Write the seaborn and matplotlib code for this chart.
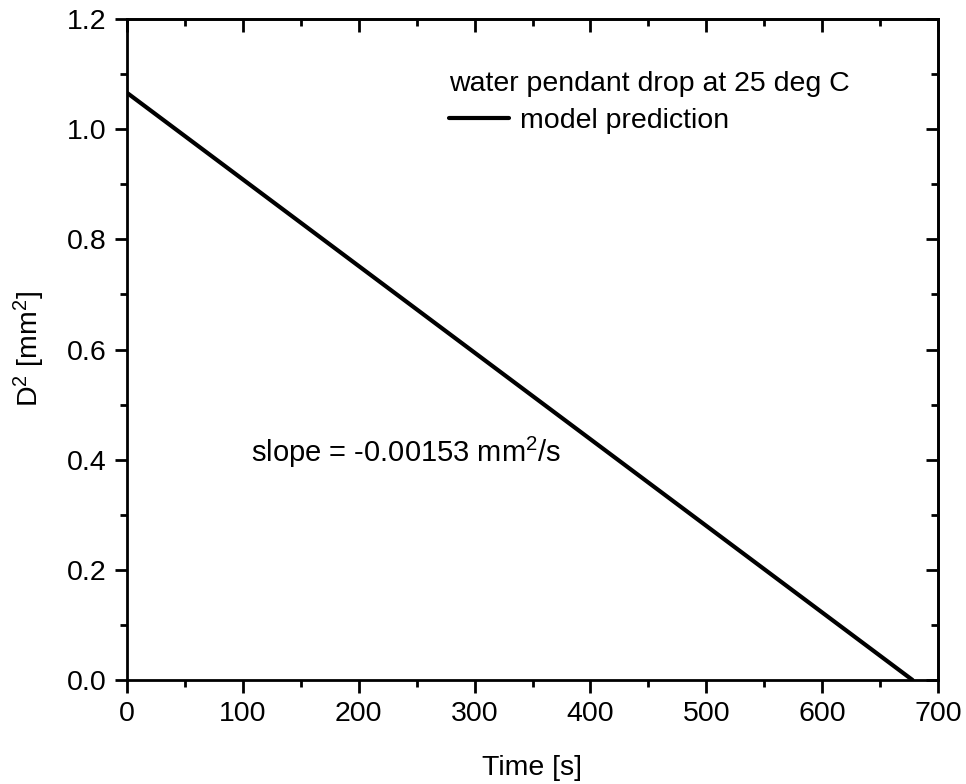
import matplotlib
matplotlib.use("Agg")
import matplotlib.pyplot as plt
import seaborn as sns
import pandas as pd
from matplotlib.ticker import MultipleLocator

# data
time_s = [0, 678]
d2_mm2 = [1.066, 0.0]
series_label = "model prediction"
legend_title = "water pendant drop at 25 deg C"
slope_text = "slope = -0.00153 mm$^{2}$/s"
x_ticks = [0, 100, 200, 300, 400, 500, 600, 700]
y_ticks = [0.0, 0.2, 0.4, 0.6, 0.8, 1.0, 1.2]

sns.set_style("ticks")
plt.rcParams["font.family"] = ["Liberation Sans", "DejaVu Sans"]
plt.rcParams["mathtext.fontset"] = "custom"
plt.rcParams["mathtext.rm"] = "Liberation Sans"
plt.rcParams["mathtext.it"] = "Liberation Sans:italic"
plt.rcParams["mathtext.bf"] = "Liberation Sans:bold"
plt.rcParams["text.color"] = "black"
plt.rcParams["axes.labelcolor"] = "black"
plt.rcParams["xtick.color"] = "black"
plt.rcParams["ytick.color"] = "black"
plt.rcParams["legend.labelcolor"] = "black"

df = pd.DataFrame({"Time": time_s, "D2": d2_mm2, "series": series_label})

fig = plt.figure(figsize=(9.66, 7.84), dpi=100)
ax = fig.add_axes([127/966, 1-680/784, (938-127)/966, (680-19)/784])

sns.lineplot(data=df, x="Time", y="D2", color="black", linewidth=3,
             label=series_label, ax=ax)

ax.set_xlim(0, 700)
ax.set_ylim(0, 1.2)
ax.set_xticks(x_ticks)
ax.set_yticks(y_ticks)
ax.set_yticklabels([f"{v:.1f}" for v in y_ticks])
ax.xaxis.set_minor_locator(MultipleLocator(50))
ax.yaxis.set_minor_locator(MultipleLocator(0.1))

for sp in ax.spines.values():
    sp.set_visible(True)
    sp.set_linewidth(2)
    sp.set_color("black")

ax.tick_params(which="both", direction="out", width=2, colors="black",
               labelsize=20.5, top=False, right=False)
ax.tick_params(which="major", length=9, pad=6)
ax.tick_params(which="minor", length=5)

secx = ax.secondary_xaxis("top")
secx.set_xticks(x_ticks)
secx.xaxis.set_minor_locator(MultipleLocator(50))
secx.tick_params(which="both", direction="in", width=2, labeltop=False)
secx.tick_params(which="major", length=9)
secx.tick_params(which="minor", length=5)
secx.spines["top"].set_linewidth(2)

secy = ax.secondary_yaxis("right")
secy.set_yticks(y_ticks)
secy.yaxis.set_minor_locator(MultipleLocator(0.1))
secy.tick_params(which="both", direction="in", width=2, labelright=False)
secy.tick_params(which="major", length=9)
secy.tick_params(which="minor", length=5)
secy.spines["right"].set_linewidth(2)

ax.set_xlabel("Time [s]", fontsize=20.5, labelpad=20, color="black")
ax.set_ylabel("D$^{2}$ [mm$^{2}$]", fontsize=20.5, labelpad=14, color="black")

ax.text(107, 0.413, slope_text, fontsize=21, ha="left", va="center",
        color="black", transform=ax.transData)

leg = ax.legend(title=legend_title, loc="upper left",
                bbox_to_anchor=((449-127)/811, (680-71)/661),
                frameon=False, fontsize=20.5, title_fontsize=20.5,
                handlelength=2.1, handletextpad=0.4, borderpad=0,
                borderaxespad=0, alignment="left", labelspacing=0.2)
leg._legend_box.sep = 8
leg.get_title().set_color("black")
for t in leg.get_texts():
    t.set_color("black")

fig.savefig("out.png", dpi=100)
